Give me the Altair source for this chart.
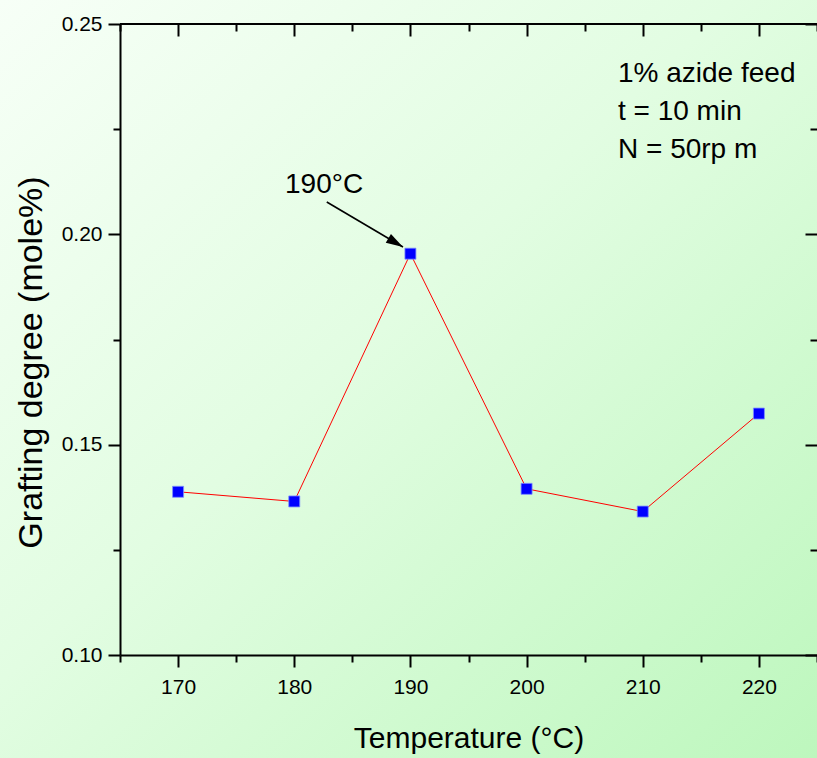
import altair as alt
import pandas as pd

# ---- data ----
temperature = [170, 180, 190, 200, 210, 220]
grafting = [0.1388, 0.1365, 0.1954, 0.1395, 0.1341, 0.1574]

x_major = [170, 180, 190, 200, 210, 220]
x_minor = [165, 175, 185, 195, 205, 215, 225]
y_major = [0.10, 0.15, 0.20, 0.25]
y_minor = [0.125, 0.175, 0.225]

arrow_x = [182.8, 189.36]
arrow_y = [0.2077, 0.1970]

note_lines = ["1% azide feed", "t = 10 min", "N = 50rp m"]
peak_label = "190°C"

FONT = "Liberation Sans"
W, H = 697, 631

df = pd.DataFrame({"T": temperature, "G": grafting})
arrow_df = pd.DataFrame({"T": arrow_x, "G": arrow_y})
tip_df = arrow_df.tail(1)
one = pd.DataFrame({"a": [0]})

xs = alt.Scale(domain=[165, 225], nice=False, zero=False)
ys = alt.Scale(domain=[0.10, 0.25], nice=False, zero=False)

common = dict(zindex=1, grid=False, labelFlush=False, tickColor="black",
              tickWidth=2, domainColor="black", domainWidth=2)
tick_common = {k: v for k, v in common.items() if not k.startswith("domain")}

bg = alt.Chart(one).mark_rect(
    fill=alt.Gradient(gradient="linear", x1=0, y1=0, x2=1, y2=1,
                      stops=[alt.GradientStop(color="#f7fff7", offset=0),
                             alt.GradientStop(color="#e2fde2", offset=0.45),
                             alt.GradientStop(color="#bdf7bd", offset=1)]),
    clip=False,
).encode(x=alt.value(-120), x2=alt.value(W), y=alt.value(-24), y2=alt.value(H + 103))

line = alt.Chart(df).mark_line(color="#ff0000", strokeWidth=1).encode(
    x=alt.X("T:Q", scale=xs, axis=alt.Axis(
        values=x_major, tickSize=12, labelFont=FONT, labelFontSize=21,
        labelColor="black", labelPadding=9, domain=True,
        title="Temperature (°C)", titleFont=FONT, titleFontSize=30,
        titleFontWeight="normal", titleColor="black",
        titleBaseline="alphabetic", titleY=92, **common)),
    y=alt.Y("G:Q", scale=ys, axis=alt.Axis(
        values=y_major, format=".2f", tickSize=12, labelFont=FONT,
        labelFontSize=21, labelColor="black", labelPadding=6, domain=True,
        title="Grafting degree (mole%)", titleFont=FONT, titleFontSize=34,
        titleFontWeight="normal", titleColor="black",
        titleBaseline="alphabetic", titleX=-79, titleY=338, titleAlign="center",
        **common)),
)

points = alt.Chart(df).mark_square(size=121, color="#0000ff", opacity=1,
                                   stroke="#7f8fff", strokeWidth=0.8).encode(
    x=alt.X("T:Q", scale=xs, axis=None),
    y=alt.Y("G:Q", scale=ys, axis=None),
)

def tick_layer(xorient, yorient, xvals, yvals, size, offset):
    return alt.Chart(df).mark_point(opacity=0).encode(
        x=alt.X("T:Q", scale=xs, axis=alt.Axis(
            orient=xorient, values=xvals, tickSize=size, offset=offset,
            labels=False, domain=False, title=None, **tick_common)),
        y=alt.Y("G:Q", scale=ys, axis=alt.Axis(
            orient=yorient, values=yvals, tickSize=size, offset=offset,
            labels=False, domain=False, title=None, **tick_common)),
    )

minor_out = tick_layer("bottom", "left", x_minor, y_minor, 7, 0)
major_in = tick_layer("top", "right", x_major, y_major, 12, -12)
minor_in = tick_layer("top", "right", x_minor, y_minor, 7, -7)

top_line = alt.Chart(one).mark_rule(color="black", strokeWidth=2).encode(
    x=alt.value(0), x2=alt.value(W + 2), y=alt.value(0))

arrow = alt.Chart(arrow_df).mark_line(color="black", strokeWidth=1.6).encode(
    x=alt.X("T:Q", scale=xs, axis=None), y=alt.Y("G:Q", scale=ys, axis=None))

head = alt.Chart(tip_df).mark_point(
    shape="M0,0L-2,-0.6L-2,0.6Z", filled=True, color="black", opacity=1,
    size=289, angle=30.6).encode(
    x=alt.X("T:Q", scale=xs, axis=None), y=alt.Y("G:Q", scale=ys, axis=None))

notes = alt.Chart(one).mark_text(
    font=FONT, fontSize=28, color="black", align="left", baseline="alphabetic",
    lineHeight=38).encode(x=alt.value(498), y=alt.value(58),
                          text=alt.value(note_lines))

peak = alt.Chart(one).mark_text(
    font=FONT, fontSize=28, color="black", align="left",
    baseline="alphabetic").encode(x=alt.value(165), y=alt.value(169),
                                  text=alt.value(peak_label))

chart = alt.layer(
    bg, minor_out, major_in, minor_in, top_line, line, points, arrow, head,
    notes, peak,
).resolve_axis(x="independent", y="independent").properties(
    width=W, height=H,
    padding={"left": 120, "top": 24, "right": 0, "bottom": 103},
    autosize=alt.AutoSizeParams(type="none"),
    background="#e8fde8",
).configure_view(stroke=None)

chart.save("out.html", embed_options={"renderer": "svg", "actions": False})
